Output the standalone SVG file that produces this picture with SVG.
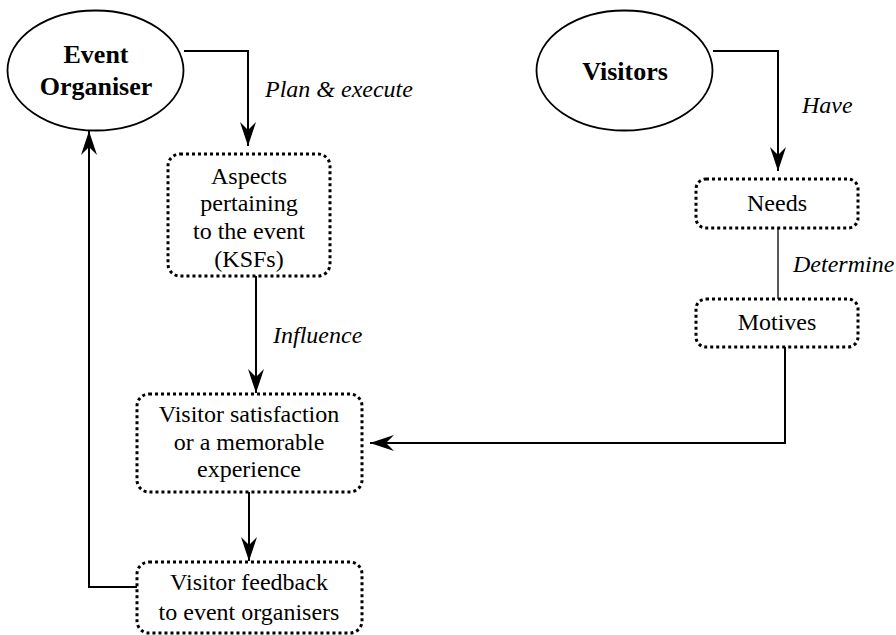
<svg xmlns="http://www.w3.org/2000/svg" width="896" height="635" viewBox="0 0 896 635">
<defs>
<marker id="ah" viewBox="0 0 24 16" refX="24" refY="8" markerWidth="24" markerHeight="16" markerUnits="userSpaceOnUse" orient="auto">
<path d="M0,0 L24,8 L0,16 L8,8 Z" fill="#000"/>
</marker>
</defs>
<rect width="896" height="635" fill="#fff"/>
<g id="connectors" fill="none" stroke="#000" stroke-width="2">
<path d="M184,51 H248 V146" marker-end="url(#ah)"/>
<path d="M713,51 H778 V171" marker-end="url(#ah)"/>
<path d="M778,228 V299" stroke-width="1.3"/>
<path d="M256,276 V393" marker-end="url(#ah)"/>
<path d="M785,347 V443 H370" marker-end="url(#ah)"/>
<path d="M249,492 V561" marker-end="url(#ah)"/>
<path d="M137,587 H89 V131" marker-end="url(#ah)"/>
</g>
<g id="labels">
<text x="265" y="97" font-family="Liberation Serif" font-size="24" font-style="italic">Plan &amp; execute</text>
<text x="802" y="113" font-family="Liberation Serif" font-size="24" font-style="italic">Have</text>
<text x="793" y="272" font-family="Liberation Serif" font-size="24" font-style="italic">Determine</text>
<text x="273" y="343" font-family="Liberation Serif" font-size="24" font-style="italic">Influence</text>
</g>
<g id="event-organiser">
<ellipse cx="95.5" cy="70.5" rx="88" ry="60" fill="#fff" stroke="#000" stroke-width="1.8"/>
<text x="96" y="63" font-family="Liberation Serif" font-size="26" font-weight="bold" text-anchor="middle">Event</text>
<text x="96" y="95" font-family="Liberation Serif" font-size="26" font-weight="bold" text-anchor="middle">Organiser</text>
</g>
<g id="visitors">
<ellipse cx="624.5" cy="70.5" rx="88" ry="60" fill="#fff" stroke="#000" stroke-width="1.8"/>
<text x="625" y="80" font-family="Liberation Serif" font-size="26" font-weight="bold" text-anchor="middle">Visitors</text>
</g>
<g id="aspects">
<rect x="168" y="154" width="162" height="122" rx="12" fill="#fff" stroke="#000" stroke-width="3" stroke-dasharray="3 3"/>
<text x="249" y="184" font-family="Liberation Serif" font-size="24" text-anchor="middle">Aspects</text>
<text x="249" y="211" font-family="Liberation Serif" font-size="24" text-anchor="middle">pertaining</text>
<text x="249" y="239" font-family="Liberation Serif" font-size="24" text-anchor="middle">to the event</text>
<text x="249" y="267" font-family="Liberation Serif" font-size="24" text-anchor="middle">(KSFs)</text>
</g>
<g id="needs">
<rect x="696" y="179" width="162" height="49" rx="10" fill="#fff" stroke="#000" stroke-width="3" stroke-dasharray="3 3"/>
<text x="777" y="211" font-family="Liberation Serif" font-size="24" text-anchor="middle">Needs</text>
</g>
<g id="motives">
<rect x="696" y="299" width="162" height="48" rx="10" fill="#fff" stroke="#000" stroke-width="3" stroke-dasharray="3 3"/>
<text x="777" y="330" font-family="Liberation Serif" font-size="24" text-anchor="middle">Motives</text>
</g>
<g id="satisfaction">
<rect x="137" y="394" width="225" height="98" rx="12" fill="#fff" stroke="#000" stroke-width="3" stroke-dasharray="3 3"/>
<text x="249" y="422" font-family="Liberation Serif" font-size="24" text-anchor="middle">Visitor satisfaction</text>
<text x="249" y="450" font-family="Liberation Serif" font-size="24" text-anchor="middle">or a memorable</text>
<text x="249" y="477" font-family="Liberation Serif" font-size="24" text-anchor="middle">experience</text>
</g>
<g id="feedback">
<rect x="137" y="562" width="225" height="71" rx="12" fill="#fff" stroke="#000" stroke-width="3" stroke-dasharray="3 3"/>
<text x="249" y="590" font-family="Liberation Serif" font-size="24" text-anchor="middle">Visitor feedback</text>
<text x="249" y="620" font-family="Liberation Serif" font-size="24" text-anchor="middle">to event organisers</text>
</g>
</svg>
